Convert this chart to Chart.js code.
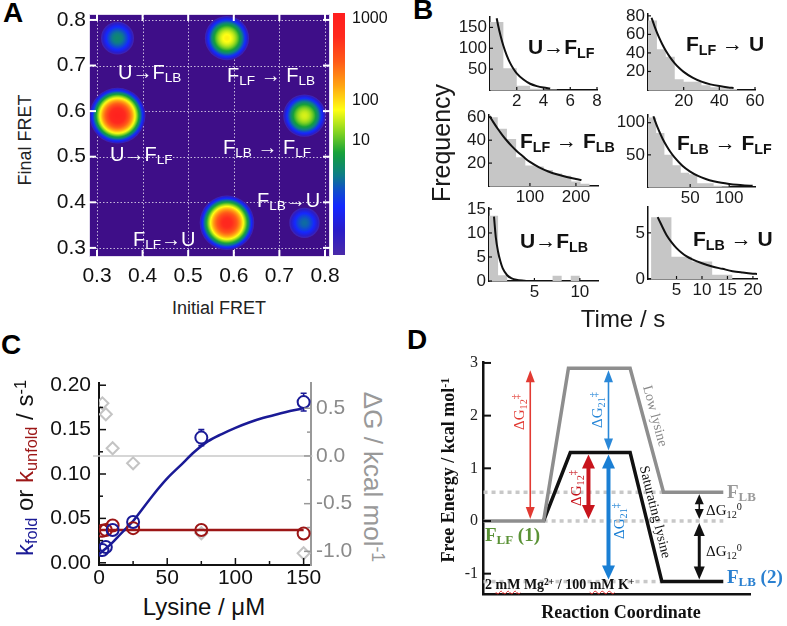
<!DOCTYPE html>
<html><head><meta charset="utf-8">
<script src="https://cdn.jsdelivr.net/npm/chart.js@4.4.1/dist/chart.umd.min.js"></script>
<style>
html,body{margin:0;padding:0;background:#fff;}
#page{position:relative;width:787px;height:626px;overflow:hidden;background:#fff;}
canvas{position:absolute;}
.t{position:absolute;white-space:nowrap;line-height:1;}
.sans{font-family:"Liberation Sans",Arial,sans-serif;}
.serif{font-family:"Liberation Serif","Times New Roman",serif;}
.t sub{font-size:0.68em;vertical-align:baseline;position:relative;top:0.25em;line-height:0;}
.t sup{font-size:0.68em;vertical-align:baseline;position:relative;top:-0.45em;line-height:0;}
.ctr{transform:translate(-50%,-50%);}
.rot{transform:translate(-50%,-50%) rotate(-90deg);}
.rotc{transform:translate(-50%,-50%) rotate(90deg);}
.wavy{text-decoration:underline wavy #e03030;text-decoration-thickness:1px;text-underline-offset:1px;}
</style></head>
<body><div id="page"></div>
<script>
// ================= DATA =================
// Panel A: transition density plot (peak positions and peak counts)
const fretTicks = [0.3, 0.4, 0.5, 0.6, 0.7, 0.8];
const tdpInitialFret = [0.345, 0.585, 0.345, 0.755, 0.585, 0.755];
const tdpFinalFret   = [0.760, 0.760, 0.590, 0.590, 0.355, 0.355];
const tdpPeakCounts  = [2, 75, 950, 40, 700, 1];
const colorbarTickCounts = [10, 100, 1000];

// Panel B: dwell-time histograms (bin edges, counts) and exponential fits
const uFlfEdges = [0, 1, 2, 3, 4, 5];
const uFlfCounts = [163, 52, 10, 3, 1];
const uFlfFitTime = [0.5, 0.6, 0.8, 1.0, 1.25, 1.5, 1.75, 2.0, 2.5, 3.0, 3.5, 4.0, 4.5];
const uFlfFitFreq = [172, 156, 129, 106, 83, 65, 51, 40, 25, 15, 9.3, 5.8, 3.6];

const flfUEdges = [0, 5, 10, 15, 20, 25, 30, 35, 40, 45, 50];
const flfUCounts = [75, 44, 36, 11.5, 9, 9, 5, 3, 2, 1];
const flfUFitTime = [2, 4, 6, 8, 10, 12.5, 15, 17.5, 20, 25, 30, 35, 40, 45, 48];
const flfUFitFreq = [78, 67, 57.5, 49.4, 42.4, 35, 28.8, 23.7, 19.6, 13.3, 9, 6.1, 4.2, 2.8, 2.2];

const flfFlbEdges = [10, 30, 50, 70, 90, 110, 130, 150, 170, 190, 210, 230];
const flfFlbCounts = [60, 50, 41, 25, 18, 17, 14, 11, 9, 4, 2];
const flfFlbFitTime = [12, 20, 30, 40, 50, 60, 70, 80, 90, 100, 120, 140, 160, 180, 200, 212];
const flfFlbFitFreq = [61, 56, 50, 44.5, 39.5, 35, 31, 27.5, 24, 21, 16.3, 12.7, 10, 7.8, 6.1, 5.2];

const flbFlfEdges = [-4, 6.5, 17, 27.5, 38, 48.5, 59, 69.5, 80, 90.5, 101];
const flbFlfCounts = [108, 84, 50, 34, 22, 20, 6, 6, 2, 1];
const flbFlfFitTime = [3, 5, 10, 15, 20, 25, 30, 40, 50, 60, 70, 80, 90, 100, 110, 120, 130];
const flbFlfFitFreq = [110, 103, 87.6, 74.3, 63.4, 54, 46, 33.1, 24, 17.3, 12.5, 9, 6.5, 4.7, 3.4, 2.5, 1.8];

const uFlbEdges = [0, 1, 2, 3, 4, 5, 6, 7, 8, 9, 10];
const uFlbCounts = [13.6, 1.2, 0, 0, 0, 0, 0, 1.1, 0, 1.1];
const uFlbFitTime = [0.55, 0.75, 1.0, 1.25, 1.5, 2.0, 2.5, 3.0, 4.0];
const uFlbFitFreq = [13.4, 9.1, 6.1, 4.1, 2.7, 1.2, 0.55, 0.25, 0.05];

const flbUEdges = [0, 4, 8, 12, 16];
const flbUCounts = [6.7, 2.4, 1.9, 0.45];
const flbUFitTime = [1.3, 2, 3, 4, 5, 6, 7, 8, 10, 12, 14, 16, 18, 20, 20.8];
const flbUFitFreq = [6.7, 5.9, 4.8, 4.0, 3.35, 2.85, 2.45, 2.15, 1.7, 1.35, 1.1, 0.85, 0.7, 0.58, 0.55];

// Panel C: rate constants and free energy vs lysine
const lysineUM = [2.5, 5, 10, 25, 75, 150];
const kFold = [0.0143, 0.0177, 0.037, 0.046, 0.141, 0.181];
const kFoldErr = [0.002, 0.002, 0.002, 0.003, 0.009, 0.010];
const kUnfold = [0.036, 0.037, 0.042, 0.039, 0.037, 0.033];
const kUnfoldErr = [0.003, 0.003, 0.003, 0.003, 0.002, 0.002];
const deltaG = [0.552, 0.437, 0.081, -0.077, -0.81, -1.02];
const deltaGErr = [0.07, 0.05, 0.04, 0.04, 0.05, 0.04];
const kFoldFitLys = [0, 5, 10, 15, 20, 25, 30, 40, 50, 60, 70, 80, 90, 100, 110, 120, 130, 140, 150];
const kFoldFit = [0.010, 0.016, 0.023, 0.031, 0.039, 0.047, 0.057, 0.077, 0.095, 0.110, 0.125, 0.137, 0.145, 0.152, 0.158, 0.163, 0.167, 0.171, 0.174];
const kUnfoldFitLys = [0, 150];
const kUnfoldFit = [0.037, 0.037];
const dGRefLys = [-4.4, 156.5];
const dGRef = [0, 0];

// Panel D: free energy profile
const coordLowLys = [0.2, 22.7, 32.0, 55.1, 67.6, 90.0];
const energyLowLys = [0, 0, 2.90, 2.90, 0.545, 0.545];
const coordSatLys = [22.7, 32.7, 55.1, 67.0, 90.0];
const energySatLys = [0, 1.30, 1.30, -1.15, -1.15];
const levelEnergy = [0.545, 0, -1.15];
const levelFrom = [0.2, 22.7, 0.2];
const levelTo = [67.6, 90.0, 67.0];
const energyTicks = [-1, 0, 1, 2, 3];

// ================= HELPERS =================
const page = document.getElementById('page');
const SANS = '"Liberation Sans", Arial, sans-serif';
const SERIF = '"Liberation Serif", "Times New Roman", serif';
Chart.defaults.font.family = SANS;

function makeCanvas(area, pad){
  const c = document.createElement('canvas');
  const W = area[2]-area[0]+pad[0]+pad[2], H = area[3]-area[1]+pad[1]+pad[3];
  c.width = W; c.height = H;
  c.style.left = (area[0]-pad[0])+'px'; c.style.top = (area[1]-pad[1])+'px';
  c.style.width = W+'px'; c.style.height = H+'px';
  page.appendChild(c); return c;
}
function baseOptions(pad, rightAxis){
  return {responsive:false, animation:false, devicePixelRatio:1, events:[],
    layout:{padding:{left:0, top:pad[1], right: rightAxis?0:pad[2], bottom:0}},
    plugins:{legend:{display:false}, tooltip:{enabled:false}}};
}
function axis(o){
  const horiz = o.position==='bottom';
  return {type:'linear', position:o.position, min:o.min, max:o.max,
    afterBuildTicks: s=>{ s.ticks = o.ticks.map(v=>({value:v})); },
    afterFit: s=>{ if(horiz) s.height=o.size; else s.width=o.size;
      s.paddingLeft=0; s.paddingRight=0; s.paddingTop=0; s.paddingBottom=0; },
    grid:{display:false, drawTicks:false},
    border: o.border ? {display:true, color:o.border[0], width:o.border[1]} : {display:false},
    ticks:{display: o.show!==false, autoSkip:false, maxRotation:0, minRotation:0,
      padding:o.padding||0, font:o.font, color:o.color||'#111', callback:o.fmt||(v=>String(v))}
  };
}
function tickPlugin(specs){
  return {id:'innerTicks', afterDatasetsDraw(chart){
    const ctx=chart.ctx, a=chart.chartArea;
    specs.forEach(sp=>{
      const s=chart.scales[sp.scale];
      ctx.save(); ctx.strokeStyle=sp.color; ctx.lineWidth=sp.width;
      const draw=(v,len)=>{ const p=s.getPixelForValue(v); ctx.beginPath();
        if(sp.side==='bottom'){ctx.moveTo(p,a.bottom);ctx.lineTo(p,a.bottom-len);}
        else if(sp.side==='top'){ctx.moveTo(p,a.top);ctx.lineTo(p,a.top+len);}
        else if(sp.side==='left'){ctx.moveTo(a.left,p);ctx.lineTo(a.left+len,p);}
        else {ctx.moveTo(a.right,p);ctx.lineTo(a.right-len,p);}
        ctx.stroke(); };
      (sp.major||[]).forEach(v=>draw(v,sp.len));
      (sp.minor||[]).forEach(v=>draw(v,sp.mlen||sp.len/2));
      ctx.restore();
    });
  }};
}
function pts(xs, ys){ return xs.map((x,i)=>({x, y:ys[i]})); }
function txt(html, x, y, cls, style){
  const d=document.createElement('div'); d.className='t '+cls; d.innerHTML=html;
  d.style.left=x+'px'; d.style.top=y+'px'; if(style) d.style.cssText+=';'+style;
  page.appendChild(d); return d;
}

// ================= PANEL A =================
const HEAT_BG = '#3e0e88';
const CMAP = [[0,'#4a2aa8'],[0.1,'#2a1cc8'],[0.2,'#1428ff'],[0.27,'#1050c8'],[0.33,'#0e7e86'],[0.42,'#14a03a'],[0.5,'#7ad022'],[0.6,'#ffff14'],[0.7,'#ffa412'],[0.8,'#ff5a18'],[0.9,'#ff2a1e'],[1,'#ff1e1e']];
const KDE_SIGMA = 0.0447, T_CUT = 0.03;
function hex(h){ return [parseInt(h.slice(1,3),16),parseInt(h.slice(3,5),16),parseInt(h.slice(5,7),16)]; }
function cmap(t){
  t=Math.max(0,Math.min(1,t));
  for(let i=1;i<CMAP.length;i++){
    if(t<=CMAP[i][0]){ const [t0,c0]=CMAP[i-1],[t1,c1]=CMAP[i]; const f=(t-t0)/(t1-t0);
      const a=hex(c0), b=hex(c1);
      return 'rgb('+a.map((v,k)=>Math.round(v+(b[k]-v)*f)).join(',')+')'; }
  }
  return CMAP[CMAP.length-1][1];
}
function countToT(c){ const l=Math.log10(c); return l>=2 ? 0.636+0.339*(l-2) : 0.471+0.165*(l-1); }

const heatPlugin = {id:'heat',
  beforeDatasetsDraw(chart){
    const {ctx, chartArea:a, scales:{x,y}} = chart;
    ctx.save();
    ctx.fillStyle=HEAT_BG; ctx.fillRect(a.left,a.top,a.right-a.left,a.bottom-a.top);
    ctx.strokeStyle='rgba(255,255,255,0.7)'; ctx.lineWidth=1; ctx.setLineDash([1.5,2]);
    fretTicks.forEach(v=>{
      const px=Math.round(x.getPixelForValue(v))+0.5, py=Math.round(y.getPixelForValue(v))+0.5;
      ctx.beginPath(); ctx.moveTo(px,a.top); ctx.lineTo(px,a.bottom); ctx.stroke();
      ctx.beginPath(); ctx.moveTo(a.left,py); ctx.lineTo(a.right,py); ctx.stroke();
    });
    ctx.setLineDash([]);
    ctx.beginPath(); ctx.rect(a.left,a.top,a.right-a.left,a.bottom-a.top); ctx.clip();
    tdpPeakCounts.forEach((c,i)=>{
      const t0=countToT(c);
      const Ru=KDE_SIGMA*Math.sqrt(2*(t0-T_CUT));
      const cx=x.getPixelForValue(tdpInitialFret[i]), cy=y.getPixelForValue(tdpFinalFret[i]);
      const Rpx=Math.abs(x.getPixelForValue(tdpInitialFret[i]+Ru)-cx);
      const g=ctx.createRadialGradient(cx,cy,0,cx,cy,Rpx);
      const N=30;
      for(let k=0;k<=N;k++){ const s=k/N, r=s*Ru; g.addColorStop(s, cmap(t0 - r*r/(2*KDE_SIGMA*KDE_SIGMA))); }
      ctx.fillStyle=g; ctx.beginPath(); ctx.arc(cx,cy,Rpx,0,Math.PI*2); ctx.fill();
    });
    ctx.restore();
  },
  afterDatasetsDraw(chart){
    const {ctx, chartArea:a, scales:{x,y}} = chart;
    ctx.save();
    ctx.strokeStyle='rgba(255,255,255,0.85)'; ctx.lineWidth=1;
    ctx.strokeRect(a.left+0.5,a.top+0.5,a.right-a.left-1,a.bottom-a.top-1);
    ctx.strokeStyle='#ffffff'; ctx.lineWidth=2;
    fretTicks.forEach(v=>{
      const px=x.getPixelForValue(v), py=y.getPixelForValue(v);
      ctx.beginPath(); ctx.moveTo(px,a.bottom); ctx.lineTo(px,a.bottom-7); ctx.stroke();
      ctx.beginPath(); ctx.moveTo(px,a.top); ctx.lineTo(px,a.top+7); ctx.stroke();
      ctx.beginPath(); ctx.moveTo(a.left,py); ctx.lineTo(a.left+7,py); ctx.stroke();
      ctx.beginPath(); ctx.moveTo(a.right,py); ctx.lineTo(a.right-7,py); ctx.stroke();
    });
    // colour bar
    const bx=a.right+3, bw=12, bt=a.top-1, bb=a.bottom-2;
    const g=ctx.createLinearGradient(0,bb,0,bt);
    for(let k=0;k<=40;k++){ g.addColorStop(k/40, cmap(k/40)); }
    ctx.fillStyle=g; ctx.fillRect(bx,bt,bw,bb-bt);
    ctx.fillStyle='#111'; ctx.font='16px '+SANS; ctx.textBaseline='middle'; ctx.textAlign='left';
    colorbarTickCounts.forEach(c=>{ const py=bb-countToT(c)*(bb-bt); ctx.fillText(String(c), bx+bw+7, py); });
    ctx.restore();
  }
};

(function(){
  const area=[89,14,330,257], pad=[50,10,58,35];
  const cv=makeCanvas(area,pad);
  const f={family:SANS,size:21};
  const opt=baseOptions(pad,false);
  opt.scales={
    x: axis({position:'bottom',min:0.2825,max:0.811,ticks:fretTicks,fmt:v=>v.toFixed(1),font:f,padding:7,size:pad[3]}),
    y: axis({position:'left',min:0.28,max:0.813,ticks:fretTicks,fmt:v=>v.toFixed(1),font:f,padding:3,size:pad[0]})
  };
  new Chart(cv,{type:'scatter',data:{datasets:[{data:pts(tdpInitialFret,tdpFinalFret),pointRadius:0}]},options:opt,plugins:[heatPlugin]});
})();

// ================= PANEL B =================
function histPanel(area, xr, yr, xt, yt, edges, counts, fitT, fitF){
  const pad=[40,6,14,22];
  const cv=makeCanvas(area,pad);
  const f={family:SANS,size:17};
  const opt=baseOptions(pad,false);
  opt.scales={
    x: axis({position:'bottom',min:xr[0],max:xr[1],ticks:xt,font:f,color:'#1a1a1a',padding:1,size:pad[3],border:['#111',1.5]}),
    y: axis({position:'left',min:yr[0],max:yr[1],ticks:yt,font:f,color:'#1a1a1a',padding:3,size:pad[0],border:['#111',1.5]})
  };
  const histPts = edges.map((e,i)=>({x:e, y:counts[Math.min(i,counts.length-1)]}));
  new Chart(cv,{type:'scatter',data:{datasets:[
    {data:pts(fitT,fitF), showLine:true, borderColor:'#111', borderWidth:2, pointRadius:0, cubicInterpolationMode:'monotone', fill:false},
    {data:histPts, showLine:true, stepped:true, borderWidth:0, borderColor:'rgba(0,0,0,0)', backgroundColor:'#c6c6c6', fill:'origin', pointRadius:0}
  ]},options:opt,plugins:[tickPlugin([
    {scale:'x',side:'bottom',major:xt,len:3,color:'#111',width:1.2},
    {scale:'y',side:'left',major:yt,len:3,color:'#111',width:1.2}
  ])]});
}
histPanel([490,17,597,90],[0,8],[0,175],[2,4,6,8],[50,100,150],uFlfEdges,uFlfCounts,uFlfFitTime,uFlfFitFreq);
histPanel([648,14,755,90],[0,60],[0,82],[20,40,60],[20,40,60,80],flfUEdges,flfUCounts,flfUFitTime,flfUFitFreq);
histPanel([489,115,598,186],[11,248],[0,62],[100,200],[20,40,60],flfFlbEdges,flfFlbCounts,flfFlbFitTime,flfFlbFitFreq);
histPanel([648,115,755,187],[-4,133],[0,112],[50,100],[50,100],flbFlfEdges,flbFlfCounts,flbFlfFitTime,flbFlfFitFreq);
histPanel([489,208,598,281],[0,12],[0,15.2],[5,10],[0,5,10,15],uFlbEdges,uFlbCounts,uFlbFitTime,uFlbFitFreq);
histPanel([648,207,757,279],[-0.6,20.8],[0,7.8],[5,10,15,20],[0,5],flbUEdges,flbUCounts,flbUFitTime,flbUFitFreq);

// ================= PANEL C =================
const BLUE='#1a1a96', RED='#9c1616', LGRAY='#c4c4c4', AGRAY='#999999';
function errorBarPlugin(specs){
  return {id:'errbars', afterDatasetsDraw(chart){
    const ctx=chart.ctx;
    specs.forEach(sp=>{
      const meta=chart.getDatasetMeta(sp.ds), ys=chart.scales[sp.yAxis], ds=chart.data.datasets[sp.ds];
      ctx.save(); ctx.strokeStyle=sp.color; ctx.lineWidth=1.6;
      meta.data.forEach((el,i)=>{
        const v=ds.data[i].y, e=sp.errs[i], x=el.x, y=el.y, r=sp.r;
        const top=ys.getPixelForValue(v+e), bot=ys.getPixelForValue(v-e);
        ctx.beginPath();
        if(y-top>r){ ctx.moveTo(x,y-r); ctx.lineTo(x,top); ctx.moveTo(x-3,top); ctx.lineTo(x+3,top); }
        if(bot-y>r){ ctx.moveTo(x,y+r); ctx.lineTo(x,bot); ctx.moveTo(x-3,bot); ctx.lineTo(x+3,bot); }
        ctx.stroke();
      });
      ctx.restore();
    });
  }};
}
(function(){
  const area=[99,383,311,565], pad=[60,10,45,25];
  const cv=makeCanvas(area,pad);
  const f={family:SANS,size:21};
  const opt=baseOptions(pad,true);
  opt.scales={
    x: axis({position:'bottom',min:0,max:155.4,ticks:[0,50,100,150],font:f,padding:1,size:pad[3],border:['#111',2]}),
    y: axis({position:'left',min:-0.0025,max:0.2025,ticks:[0,0.05,0.1,0.15,0.2],fmt:v=>v.toFixed(2),font:f,padding:8,size:pad[0],border:['#111',2]}),
    y2: axis({position:'right',min:-1.143,max:0.765,ticks:[-1,-0.5,0,0.5],fmt:v=>v.toFixed(1),font:f,color:'#8a8a8a',padding:5,size:pad[2],border:[AGRAY,2]})
  };
  new Chart(cv,{type:'scatter',data:{datasets:[
    {data:pts(lysineUM,kFold), pointStyle:'circle', pointRadius:6, borderColor:BLUE, borderWidth:2, backgroundColor:'rgba(255,255,255,0)', yAxisID:'y'},
    {data:pts(lysineUM,kUnfold), pointStyle:'circle', pointRadius:6, borderColor:RED, borderWidth:2, backgroundColor:'rgba(255,255,255,0)', yAxisID:'y'},
    {data:pts(kFoldFitLys,kFoldFit), showLine:true, borderColor:BLUE, borderWidth:2.5, pointRadius:0, cubicInterpolationMode:'monotone', yAxisID:'y'},
    {data:pts(kUnfoldFitLys,kUnfoldFit), showLine:true, borderColor:RED, borderWidth:2.5, pointRadius:0, yAxisID:'y'},
    {data:pts(lysineUM,deltaG), pointStyle:'rectRot', pointRadius:6, borderColor:LGRAY, borderWidth:2, backgroundColor:'rgba(255,255,255,0.6)', yAxisID:'y2'},
    {data:pts(dGRefLys,dGRef), showLine:true, borderColor:'#c8c8c8', borderWidth:1.5, pointRadius:0, yAxisID:'y2', clip:false}
  ]},options:opt,plugins:[
    errorBarPlugin([
      {ds:0,yAxis:'y',errs:kFoldErr,color:BLUE,r:6},
      {ds:1,yAxis:'y',errs:kUnfoldErr,color:RED,r:6},
      {ds:4,yAxis:'y2',errs:deltaGErr,color:LGRAY,r:7}
    ]),
    tickPlugin([
      {scale:'x',side:'bottom',major:[0,50,100,150],minor:[25,75,125],len:7,mlen:4,color:'#111',width:1.5},
      {scale:'y',side:'left',major:[0,0.05,0.1,0.15,0.2],minor:[0.025,0.075,0.125,0.175],len:7,mlen:4,color:'#111',width:1.5},
      {scale:'y2',side:'right',major:[-1,-0.5,0,0.5],minor:[-0.75,-0.25,0.25],len:7,mlen:4,color:AGRAY,width:1.5}
    ])
  ]});
})();

// ================= PANEL D =================
const dArrows = [
  {x:17.7, e0:energyLowLys[0], e1:energyLowLys[2], color:'#e23a32', w:1.6, hw:9, hl:12},
  {x:39.5, e0:energySatLys[0], e1:energySatLys[1], color:'#c8141c', w:4, hw:13, hl:14},
  {x:47.0, e0:energySatLys[1], e1:energyLowLys[2], color:'#2a88d8', w:1.6, hw:9, hl:12},
  {x:47.0, e0:energySatLys[4], e1:energySatLys[1], color:'#1a7fd4', w:4, hw:13, hl:14},
  {x:81.0, e0:levelEnergy[1], e1:levelEnergy[0], color:'#111', w:1.6, hw:9, hl:10},
  {x:81.0, e0:levelEnergy[2], e1:levelEnergy[1], color:'#111', w:3, hw:11, hl:13}
];
const arrowPlugin = {id:'arrows', afterDatasetsDraw(chart){
  const ctx=chart.ctx, xs=chart.scales.x, ys=chart.scales.y;
  dArrows.forEach(a=>{
    const x=xs.getPixelForValue(a.x);
    const y0=ys.getPixelForValue(a.e0), y1=ys.getPixelForValue(a.e1);
    const top=Math.min(y0,y1)+2, bot=Math.max(y0,y1)-2;
    ctx.save(); ctx.strokeStyle=a.color; ctx.fillStyle=a.color; ctx.lineWidth=a.w;
    ctx.beginPath(); ctx.moveTo(x,top+a.hl*0.8); ctx.lineTo(x,bot-a.hl*0.8); ctx.stroke();
    const tri=(yt,dir)=>{ ctx.beginPath(); ctx.moveTo(x,yt); ctx.lineTo(x-a.hw/2,yt+dir*a.hl); ctx.lineTo(x+a.hw/2,yt+dir*a.hl); ctx.closePath(); ctx.fill(); };
    tri(top,1); tri(bot,-1);
    ctx.restore();
  });
}};
(function(){
  const area=[483,362,750,594], pad=[45,8,37,10];
  const cv=makeCanvas(area,pad);
  const f={family:SERIF,size:16};
  const opt=baseOptions(pad,false);
  opt.scales={
    x: axis({position:'bottom',min:0,max:100,ticks:[],show:false,font:f,size:pad[3],border:['#111',2.5]}),
    y: axis({position:'left',min:-1.386,max:3.018,ticks:energyTicks,font:f,color:'#222',padding:5,size:pad[0],border:['#111',2.5]})
  };
  const levels = levelEnergy.map((e,i)=>({data:[{x:levelFrom[i],y:e},{x:levelTo[i],y:e}], showLine:true, borderColor:'#c8c8c8', borderWidth:3.5, borderDash:[4,4], pointRadius:0}));
  new Chart(cv,{type:'scatter',data:{datasets:[
    {data:pts(coordLowLys,energyLowLys), showLine:true, borderColor:'#8e8e8e', borderWidth:3.5, pointRadius:0},
    {data:pts(coordSatLys,energySatLys), showLine:true, borderColor:'#111', borderWidth:3.5, pointRadius:0},
    ...levels
  ]},options:opt,plugins:[arrowPlugin, tickPlugin([{scale:'y',side:'left',major:energyTicks,len:8,color:'#111',width:2}])]});
})();

// ================= TEXT =================
const bold='font-weight:bold;';
txt('A',3,-1,'sans',bold+'font-size:28px');
txt('B',413,-4,'sans',bold+'font-size:28px');
txt('C',1,331,'sans',bold+'font-size:28px');
txt('D',407,326,'sans',bold+'font-size:28px');

// A
const wA='color:#fff;font-size:20px;';
txt('U→F<sub>LB</sub>',118,62,'sans',wA);
txt('F<sub>LF</sub> → F<sub>LB</sub>',227,65,'sans',wA);
txt('U→F<sub>LF</sub>',110,144,'sans',wA);
txt('F<sub>LB</sub> → F<sub>LF</sub>',223,137,'sans',wA);
txt('F<sub>LB</sub>→U',257,190,'sans',wA);
txt('F<sub>LF</sub>→U',133,229,'sans',wA);
txt('Final FRET',25,140,'sans rot','font-size:18px;color:#222');
txt('Initial FRET',219,308,'sans ctr','font-size:18px;color:#222');

// B
const bB='font-size:21px;font-weight:bold;color:#111;';
txt('U→F<sub>LF</sub>',528,36,'sans',bB);
txt('F<sub>LF</sub> → U',686,33,'sans',bB);
txt('F<sub>LF</sub> → F<sub>LB</sub>',520,130,'sans',bB);
txt('F<sub>LB</sub> → F<sub>LF</sub>',677,132,'sans',bB);
txt('U→F<sub>LB</sub>',520,230,'sans',bB);
txt('F<sub>LB</sub> → U',693,228,'sans',bB);
txt('Frequency',441,143,'sans rot','font-size:25px;color:#1a1a1a');
txt('Time / s',623,319,'sans ctr','font-size:24px;color:#1a1a1a');

// C
txt('<span style="color:#1a1a96">k<sub>fold</sub></span> or <span style="color:#9c1616">k<sub>unfold</sub></span> / s<sup>-1</sup>',25,468,'sans rot','font-size:24px;color:#111');
txt('ΔG / kcal mol<sup>-1</sup>',373,477,'sans rotc','font-size:26px;color:#999');
txt('Lysine / μM',204,607,'sans ctr','font-size:24px;color:#111');

// D
txt('Free Energy / kcal mol<sup>-1</sup>',448,470,'serif rot',bold+'font-size:18px;color:#111');
txt('Reaction Coordinate',621,612,'serif ctr',bold+'font-size:18px;color:#111');
txt('F<sub>LB</sub>',727,482,'serif',bold+'font-size:19px;color:#9a9a9a');
txt('F<sub>LF</sub> (1)',485,525,'serif',bold+'font-size:19px;color:#5a9236');
txt('F<sub>LB</sub> (2)',727,567,'serif',bold+'font-size:19px;color:#2a80d0');
txt('2 <span class="wavy">mM</span> Mg<sup>2+</sup> / 100 <span class="wavy">mM</span> K<sup>+</sup>',485,578,'serif',bold+'font-size:14px;color:#111');
txt('Low lysine',655,416,'serif','font-size:14px;color:#888;transform:translate(-50%,-50%) rotate(75deg)');
txt('Saturating lysine',655,512,'serif','font-size:14px;color:#111;transform:translate(-50%,-50%) rotate(76deg)');
const dg='font-size:15px;';
txt('ΔG<sub>12</sub><sup>‡</sup>',519,412,'serif rot',dg+'color:#e23a32');
txt('ΔG<sub>21</sub><sup>‡</sup>',597,410,'serif rot',dg+'color:#2a88d8');
txt('ΔG<sub>12</sub><sup>‡</sup>',576,488,'serif rot',dg+'color:#c8141c');
txt('ΔG<sub>21</sub><sup>‡</sup>',619,521,'serif rot',dg+'color:#1a7fd4');
txt('ΔG<sub>12</sub><sup>0</sup>',724,510,'serif ctr',dg+'color:#111');
txt('ΔG<sub>12</sub><sup>0</sup>',724,551,'serif ctr',dg+'color:#111');
</script></body></html>
